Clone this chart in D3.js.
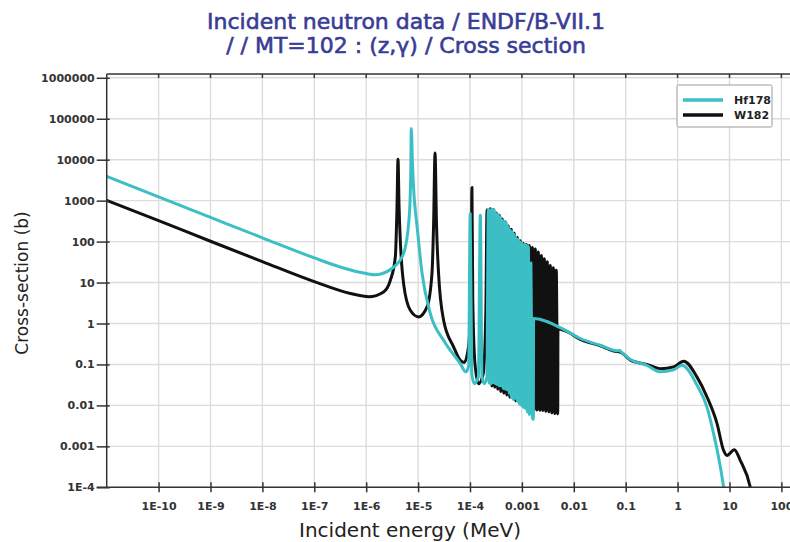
<!DOCTYPE html>
<html>
<head>
<meta charset="utf-8">
<script src="https://cdn.jsdelivr.net/npm/d3@7"></script>
<style>
  html, body { margin: 0; padding: 0; background: #fff; }
  svg { display: block; }
</style>
</head>
<body>
<svg id="chart" width="790" height="542"></svg>
<script>
// Radiative capture (MT=102) cross sections, energy in MeV, cross section in barns
const hf178 = [
  [1e-11, 3900], [1e-10, 1230], [1e-9, 390], [1e-8, 124], [1e-7, 40],
  [3.16e-7, 24], [1e-6, 16.6], [1.5e-6, 15.5], [3.4e-6, 24], [5.25e-6, 51],
  [6.56e-6, 275], [7.0e-6, 1000], [7.2e-6, 4000], [7.4e-6, 58000], [7.8e-6, 7430],
  [8.34e-6, 1375], [8.91e-6, 528], [9.53e-6, 240], [1.19e-5, 17.1], [1.72e-5, 1.74],
  [3.1e-5, 0.39], [6.5e-5, 0.105], [8.3e-5, 0.066], [9.4e-5, 0.09], [1.01e-4, 480],
  [1.08e-4, 0.06], [1.21e-4, 0.034], [1.45e-4, 0.05], [1.58e-4, 440], [1.7e-4, 0.05],
  [1.89e-4, 0.034], [2.12e-4, 0.05], [2.25e-4, 600], [2.35e-4, 0.035], [2.46e-4, 600],
  [2.57e-4, 0.034], [2.69e-4, 600], [2.81e-4, 0.036], [2.94e-4, 590], [3.07e-4, 0.034],
  [3.21e-4, 480], [3.36e-4, 0.032], [3.51e-4, 455], [3.67e-4, 0.03], [3.84e-4, 400],
  [4.0e-4, 0.03], [4.19e-4, 330], [4.38e-4, 0.026], [4.58e-4, 310], [4.79e-4, 0.025],
  [5.0e-4, 290], [5.23e-4, 0.024], [5.47e-4, 230], [5.71e-4, 0.02], [5.97e-4, 190],
  [6.25e-4, 0.016], [6.53e-4, 175], [6.83e-4, 0.014], [7.14e-4, 150], [7.46e-4, 0.015],
  [7.8e-4, 120], [8.17e-4, 0.013], [8.53e-4, 112], [8.91e-4, 0.011], [9.31e-4, 98],
  [9.74e-4, 0.01], [1.02e-3, 90], [1.06e-3, 0.009], [1.11e-3, 84], [1.16e-3, 0.0085],
  [1.22e-3, 81], [1.27e-3, 0.007], [1.33e-3, 76], [1.39e-3, 0.006], [1.49e-3, 30],
  [1.59e-3, 0.005], [1.66e-3, 0.0045], [1.68e-3, 1.32], [6.9e-3, 0.68], [1.33e-2, 0.43],
  [3.24e-2, 0.294], [5.85e-2, 0.222], [7.0e-2, 0.215], [7.6e-2, 0.218], [8.3e-2, 0.2],
  [0.123, 0.132], [0.257, 0.0955], [0.465, 0.066], [0.838, 0.074], [1.22, 0.0955],
  [2.37, 0.031], [3.68, 0.0091], [4.94, 0.00204], [6.65, 3.16e-4], [7.69, 1.02e-4],
  [8.5, 4e-5]
];

const w182 = [
  [1e-11, 1020], [1e-10, 324], [1e-9, 102], [1e-8, 32.4], [1e-7, 10.5],
  [4.94e-7, 5.4], [1.13e-6, 4.5], [2.16e-6, 5.9], [2.91e-6, 11.2], [3.64e-6, 42],
  [3.92e-6, 690], [4.1e-6, 10200], [4.3e-6, 690], [4.54e-6, 107], [5.26e-6, 9.3],
  [7.08e-6, 2.1], [1.02e-5, 1.45], [1.48e-5, 2.5], [1.85e-5, 16.6], [1.99e-5, 275],
  [2.12e-5, 14500], [2.26e-5, 275], [2.48e-5, 16.6], [3.1e-5, 1.2], [4.83e-5, 0.27],
  [6.5e-5, 0.126], [7.76e-5, 0.112], [9.27e-5, 0.25], [1.05e-4, 4], [1.09e-4, 2100],
  [1.13e-4, 4], [1.25e-4, 0.1], [1.46e-4, 0.034], [1.8e-4, 0.06], [2.02e-4, 2],
  [2.13e-4, 600], [2.24e-4, 2], [2.35e-4, 0.04], [2.46e-4, 630], [2.64e-4, 0.03],
  [2.81e-4, 600], [3.0e-4, 0.028], [3.21e-4, 500], [3.43e-4, 0.025], [3.67e-4, 440],
  [3.92e-4, 0.022], [4.19e-4, 355], [4.48e-4, 0.02], [4.79e-4, 300], [5.12e-4, 0.018],
  [5.47e-4, 240], [5.85e-4, 0.016], [6.25e-4, 200], [6.68e-4, 0.015], [7.14e-4, 160],
  [7.63e-4, 0.013], [8.17e-4, 126], [8.72e-4, 0.012], [9.31e-4, 105], [9.97e-4, 0.011],
  [1.06e-3, 91], [1.14e-3, 0.0098], [1.22e-3, 85], [1.3e-3, 0.0085], [1.39e-3, 80],
  [1.49e-3, 0.008], [1.59e-3, 72], [1.7e-3, 0.0078], [1.81e-3, 66], [1.94e-3, 0.0077],
  [2.07e-3, 56], [2.22e-3, 0.0076], [2.37e-3, 46], [2.53e-3, 0.0075], [2.7e-3, 38],
  [2.89e-3, 0.0072], [3.08e-3, 32], [3.3e-3, 0.007], [3.52e-3, 26], [3.77e-3, 0.0066],
  [4.03e-3, 23], [4.31e-3, 0.0063], [4.59e-3, 20], [4.9e-3, 0.0062], [4.95e-3, 0.74],
  [6.9e-3, 0.66], [1.33e-2, 0.41], [3.24e-2, 0.285], [5.85e-2, 0.212], [7.87e-2, 0.2],
  [0.123, 0.128], [0.257, 0.1], [0.465, 0.079], [0.838, 0.087], [1.31, 0.12],
  [2.37, 0.049], [3.68, 0.0162], [5.74, 0.00363], [7.69, 7.94e-4], [8.96, 6.0e-4],
  [12.4, 8.3e-4], [16.1, 4.57e-4], [25.1, 1.02e-4], [28, 5e-5]
];

const seriesNames = ["Hf178", "W182"];
const seriesColors = ["#3bbfc5", "#111111"];

const xTickValues = [1e-10, 1e-9, 1e-8, 1e-7, 1e-6, 1e-5, 1e-4, 1e-3, 1e-2, 1e-1, 1, 10, 100];
const xTickLabels = ["1E-10", "1E-9", "1E-8", "1E-7", "1E-6", "1E-5", "1E-4", "0.001", "0.01", "0.1", "1", "10", "100"];
const yTickValues = [1e-4, 1e-3, 1e-2, 1e-1, 1, 10, 100, 1000, 1e4, 1e5, 1e6];
const yTickLabels = ["1E-4", "0.001", "0.01", "0.1", "1", "10", "100", "1000", "10000", "100000", "1000000"];

const titleLines = ["Incident neutron data / ENDF/B-VII.1", "/ / MT=102 : (z,\u03b3) / Cross section"];
const xTitle = "Incident energy (MeV)";
const yTitle = "Cross-section (b)";

// Plot area
const plotLeft = 106.7, plotRight = 833.3, plotBottom = 487.3, plotTop = 74;
const x = d3.scaleLog().domain([1e-11, 1e3]).range([plotLeft, plotRight]);
const y = d3.scaleLog().domain([1e-4, 1e6]).range([plotBottom, 77.8]);

const svg = d3.select("#chart");
const font = "'DejaVu Sans', Verdana, sans-serif";

// Title
svg.append("g").selectAll("text").data(titleLines).join("text")
  .attr("x", 406).attr("y", (d, i) => 29 + i * 24)
  .attr("text-anchor", "middle")
  .attr("font-family", font).attr("font-size", 22)
  .attr("fill", "#383c96").attr("stroke", "#383c96").attr("stroke-width", 0.6)
  .text(d => d);

// Grid
const grid = svg.append("g").attr("stroke", "#dcdcdc").attr("stroke-width", 1.4);
grid.selectAll("line.v").data(xTickValues).join("line").attr("class", "v")
  .attr("x1", d => x(d)).attr("x2", d => x(d)).attr("y1", plotTop).attr("y2", plotBottom);
grid.selectAll("line.h").data(yTickValues.slice(1)).join("line").attr("class", "h")
  .attr("y1", d => y(d)).attr("y2", d => y(d)).attr("x1", plotLeft).attr("x2", plotRight);

// Curves
svg.append("defs").append("clipPath").attr("id", "plotClip")
  .append("rect").attr("x", plotLeft).attr("y", plotTop)
  .attr("width", plotRight - plotLeft).attr("height", plotBottom - plotTop);

const line = d3.line().x(d => x(d[0])).y(d => y(d[1])).curve(d3.curveMonotoneX);
const curves = svg.append("g").attr("clip-path", "url(#plotClip)");
[[w182, seriesColors[1]], [hf178, seriesColors[0]]].forEach(([data, color]) => {
  curves.append("path").datum(data)
    .attr("d", line)
    .attr("fill", "none").attr("stroke", color).attr("stroke-width", 3)
    .attr("stroke-linejoin", "round").attr("stroke-linecap", "round");
});

// Axes
const axisColor = "#333";
const gx = svg.append("g").attr("transform", `translate(0,${plotBottom})`)
  .call(d3.axisBottom(x).tickValues(xTickValues).tickFormat((d, i) => xTickLabels[i]).tickSizeOuter(0).tickSize(5).tickPadding(10));
gx.select(".domain").remove();
gx.selectAll(".tick line").attr("y1", -5).attr("stroke", axisColor).attr("stroke-width", 1.5);
gx.selectAll(".tick text").attr("font-family", font).attr("font-weight", "bold")
  .attr("font-size", 11).attr("fill", "#333");

const gy = svg.append("g").attr("transform", `translate(${plotLeft},0)`)
  .call(d3.axisLeft(y).tickValues(yTickValues).tickFormat((d, i) => yTickLabels[i]).tickSizeOuter(0).tickSize(10).tickPadding(2));
gy.select(".domain").remove();
gy.selectAll(".tick line").attr("x1", 3).attr("stroke", axisColor).attr("stroke-width", 1.5);
gy.selectAll(".tick text").attr("font-family", font).attr("font-weight", "bold")
  .attr("font-size", 11).attr("fill", "#333");

const frame = svg.append("g").attr("stroke", axisColor).attr("stroke-width", 1.5);
frame.append("line").attr("x1", plotLeft).attr("x2", plotLeft).attr("y1", plotTop).attr("y2", plotBottom);
frame.append("line").attr("x1", plotLeft - 10).attr("x2", plotRight).attr("y1", plotBottom).attr("y2", plotBottom);
frame.append("line").attr("x1", plotLeft).attr("x2", plotRight).attr("y1", plotTop).attr("y2", plotTop);
frame.selectAll("line.t").data(xTickValues).join("line").attr("class", "t")
  .attr("x1", d => x(d)).attr("x2", d => x(d)).attr("y1", plotTop).attr("y2", plotTop + 4);

// Axis titles
svg.append("text").attr("x", 410).attr("y", 537).attr("text-anchor", "middle")
  .attr("font-family", font).attr("font-size", 20).attr("fill", "#222").text(xTitle);
svg.append("text").attr("transform", "translate(28,283) rotate(-90)").attr("text-anchor", "middle")
  .attr("font-family", font).attr("font-size", 17).attr("fill", "#222").text(yTitle);

// Legend
const legend = svg.append("g").attr("transform", "translate(677,85)");
legend.append("rect").attr("width", 95).attr("height", 42).attr("rx", 1.5)
  .attr("fill", "#fff").attr("stroke", "#9a9a9a").attr("stroke-width", 1);
seriesNames.forEach((name, i) => {
  legend.append("line").attr("x1", 6).attr("x2", 46).attr("y1", 15 + i * 15).attr("y2", 15 + i * 15)
    .attr("stroke", seriesColors[i]).attr("stroke-width", 3.5);
  legend.append("text").attr("x", 57).attr("y", 19 + i * 15)
    .attr("font-family", font).attr("font-weight", "bold").attr("font-size", 11).attr("fill", "#222").text(name);
});
</script>
</body>
</html>
